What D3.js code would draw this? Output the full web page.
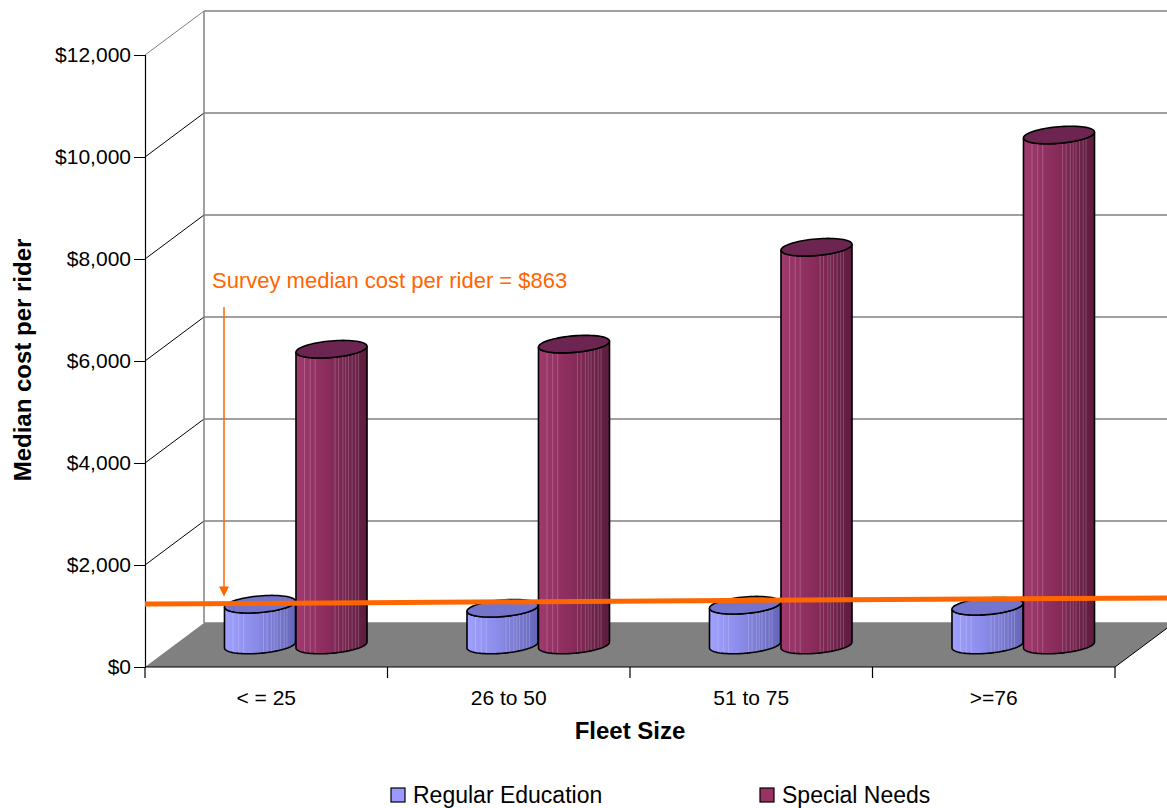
<!DOCTYPE html>
<html>
<head>
<meta charset="utf-8">
<script src="https://cdn.jsdelivr.net/npm/d3@7"></script>
<style>
  html, body { margin: 0; padding: 0; background: #fff; }
  svg { display: block; font-family: "Liberation Sans", Arial, sans-serif; }
</style>
</head>
<body>
<svg id="chart" width="1167" height="808"></svg>
<script>
// Median cost per rider by fleet size
const categories = ["< = 25", "26 to 50", "51 to 75", ">=76"];
const seriesNames = ["Regular Education", "Special Needs"];
const regularEducation = [800, 720, 780, 760];
const specialNeeds = [5800, 5900, 7800, 10000];
const yTicks = [0, 2000, 4000, 6000, 8000, 10000, 12000];
const surveyMedian = 863;

const seriesValues = [regularEducation, specialNeeds];
const seriesColors = [
  { side: ["#a0a0ff", "#8a8ae8", "#6666b8"], top: "#7474cc", legend: "#9999ff" },
  { side: ["#a03a6e", "#8a2c5c", "#5c1c3e"], top: "#6c2450", legend: "#993366" }
];

const svg = d3.select("#chart");
const W = 1167;

// plot frame and oblique depth offset
const plotLeft = 145, plotRight = 1115, plotBottom = 667, plotTop = 55;
const DX = 59, DY = 44;
const proj = (x, yy, z) => [x + z * DX, yy - z * DY];

const y = d3.scaleLinear().domain([0, 12000]).range([plotBottom, plotTop]);
const x0 = d3.scaleBand().domain(categories).range([plotLeft, plotRight]);
const x1 = d3.scaleBand().domain(seriesNames).range([0, x0.bandwidth()]).paddingOuter(0.696);

const grid = svg.append("g");
// back wall + left wall gridlines
yTicks.forEach(t => {
  const [bx, by] = proj(plotLeft, y(t), 1);
  grid.append("line").attr("x1", plotLeft).attr("y1", y(t)).attr("x2", bx).attr("y2", by)
    .attr("stroke", t === 0 ? "none" : (t === 12000 ? "#808080" : "#000")).attr("stroke-width", 1);
  grid.append("line").attr("x1", bx).attr("y1", by).attr("x2", W + 10).attr("y2", by)
    .attr("stroke", "#808080").attr("stroke-width", 1.3);
});
const [wx, wTop] = proj(plotLeft, y(12000), 1);
const [, wBot] = proj(plotLeft, y(0), 1);
grid.append("line").attr("x1", wx).attr("y1", wTop).attr("x2", wx).attr("y2", wBot)
  .attr("stroke", "#808080").attr("stroke-width", 1.5);

// floor
const f1 = [plotLeft, y(0)], f2 = [plotRight, y(0)], f3 = proj(plotRight, y(0), 1), f4 = proj(plotLeft, y(0), 1);
svg.append("path").attr("d", `M${f1}L${f2}L${f3}L${f4}Z`).attr("fill", "#808080");
svg.append("line").attr("x1", f2[0]).attr("y1", f2[1]).attr("x2", f3[0]).attr("y2", f3[1])
  .attr("stroke", "#000").attr("stroke-width", 1);

// cylinders
const rDepth = 0.2, zc = 0.5, rx = 33.5;
const vx = rDepth * DX, vy = -rDepth * DY;
const tR = Math.atan2(vx, rx);
function ellPt(cx, cy, t) {
  return [cx + rx * Math.cos(t) + vx * Math.sin(t), cy + vy * Math.sin(t)];
}
function ellipsePath(cx, cy) {
  const pts = d3.range(0, 73).map(i => ellPt(cx, cy, i / 72 * 2 * Math.PI));
  return d3.line()(pts) + "Z";
}
function sidePath(cx, cyTop, cyBot) {
  const n = 48;
  const bot = d3.range(0, n + 1).map(i => ellPt(cx, cyBot, tR - Math.PI + i / n * Math.PI));
  const topArc = d3.range(0, n + 1).map(i => ellPt(cx, cyTop, tR - i / n * Math.PI));
  return d3.line()(bot.concat(topArc)) + "Z";
}

const defs = svg.append("defs");
seriesColors.forEach((c, i) => {
  const g = defs.append("linearGradient").attr("id", "side" + i)
    .attr("x1", "0").attr("x2", "1").attr("y1", "0").attr("y2", "0");
  g.append("stop").attr("offset", "0").attr("stop-color", c.side[0]);
  g.append("stop").attr("offset", "0.45").attr("stop-color", c.side[1]);
  g.append("stop").attr("offset", "1").attr("stop-color", c.side[2]);
});
// faint vertical banding across the cylinder sides
const bandStops = [0.12, 0.2, 0.27, 0.55, 0.6, 0.66, 0.7, 0.74, 0.79, 0.84, 0.88];

const bars = svg.append("g");
categories.forEach((cat, ci) => {
  seriesNames.forEach((s, si) => {
    const v = seriesValues[si][ci];
    const fx = x0(cat) + x1(s) + x1.bandwidth() / 2;
    const [cx, cyBot] = proj(fx, y(0), zc);
    const [, cyTop] = proj(fx, y(v), zc);
    const g = bars.append("g");
    const clipId = `clip${ci}_${si}`;
    const d = sidePath(cx, cyTop, cyBot);
    defs.append("clipPath").attr("id", clipId).append("path").attr("d", d);
    g.append("path").attr("d", d).attr("fill", `url(#side${si})`);
    const w = Math.hypot(rx, vx);
    const bg = g.append("g").attr("clip-path", `url(#${clipId})`);
    bandStops.forEach(b => {
      const bx = cx - w + b * 2 * w;
      bg.append("line").attr("x1", bx).attr("x2", bx).attr("y1", cyTop - 20).attr("y2", cyBot + 20)
        .attr("stroke", "#ffffff").attr("stroke-opacity", 0.2).attr("stroke-width", 1);
    });
    g.append("path").attr("d", d).attr("fill", "none").attr("stroke", "#000").attr("stroke-width", 1.6);
    g.append("path").attr("d", ellipsePath(cx, cyTop)).attr("fill", seriesColors[si].top)
      .attr("stroke", "#000").attr("stroke-width", 1.6);
  });
});

// axes
svg.append("line").attr("x1", plotLeft).attr("y1", plotBottom).attr("x2", plotRight).attr("y2", plotBottom)
  .attr("stroke", "#000").attr("stroke-width", 1.2);
const yAxis = svg.append("g").attr("transform", `translate(${plotLeft},0)`)
  .call(d3.axisLeft(y).tickValues(yTicks).tickSize(11).tickPadding(3)
    .tickFormat(d => "$" + d3.format(",")(d)));
yAxis.select(".domain").attr("stroke", "#000").attr("stroke-width", 1.2);
yAxis.selectAll(".tick line").attr("stroke", "#000");
yAxis.selectAll("text").attr("font-size", 21).attr("fill", "#000")
  .attr("font-family", "'Liberation Sans', Arial, sans-serif");
svg.append("line").attr("x1", plotLeft).attr("y1", plotBottom).attr("x2", plotLeft).attr("y2", plotBottom + 11)
  .attr("stroke", "#000").attr("stroke-width", 1.2);

const xAxis = svg.append("g");
x0.domain().forEach((c, i) => {
  const xe = x0(c) + x0.bandwidth();
  xAxis.append("line").attr("x1", xe).attr("x2", xe).attr("y1", plotBottom).attr("y2", plotBottom + 11)
    .attr("stroke", "#000").attr("stroke-width", 1.2);
  xAxis.append("text").attr("x", x0(c) + x0.bandwidth() / 2).attr("y", 705)
    .attr("text-anchor", "middle").attr("font-size", 21).text(c);
});

svg.append("text").attr("x", 630).attr("y", 739).attr("text-anchor", "middle")
  .attr("font-size", 24).attr("font-weight", "bold").text("Fleet Size");
svg.append("text").attr("transform", "translate(31,360) rotate(-90)").attr("text-anchor", "middle")
  .attr("font-size", 24).attr("font-weight", "bold").text("Median cost per rider");

// survey median marker
const orange = "#ff6600";
const mz0 = 0.43, mz1 = 0.57;
const mY0 = y(surveyMedian) - mz0 * DY, mY1 = y(surveyMedian) - mz1 * DY;
const arrowX = 224;
const tipY = mY0 + (mY1 - mY0) * (arrowX - plotLeft) / (W - plotLeft) - 7;
svg.append("line").attr("x1", arrowX).attr("x2", arrowX).attr("y1", 307).attr("y2", tipY - 6)
  .attr("stroke", orange).attr("stroke-width", 1.5);
svg.append("path").attr("d", `M${arrowX - 5},${tipY - 10}L${arrowX + 5},${tipY - 10}L${arrowX},${tipY}Z`)
  .attr("fill", orange);
svg.append("line").attr("x1", plotLeft).attr("y1", mY0).attr("x2", W).attr("y2", mY1)
  .attr("stroke", orange).attr("stroke-width", 5);
svg.append("text").attr("x", 212).attr("y", 288).attr("font-size", 22).attr("fill", orange)
  .text("Survey median cost per rider = $" + surveyMedian);

// legend
const legend = svg.append("g");
const legendX = [391, 760];
seriesNames.forEach((s, i) => {
  legend.append("rect").attr("x", legendX[i]).attr("y", 788).attr("width", 14).attr("height", 14)
    .attr("fill", seriesColors[i].legend).attr("stroke", "#000").attr("stroke-width", 1.2);
  legend.append("text").attr("x", legendX[i] + 22).attr("y", 803).attr("font-size", 23).text(s);
});
</script>
</body>
</html>
